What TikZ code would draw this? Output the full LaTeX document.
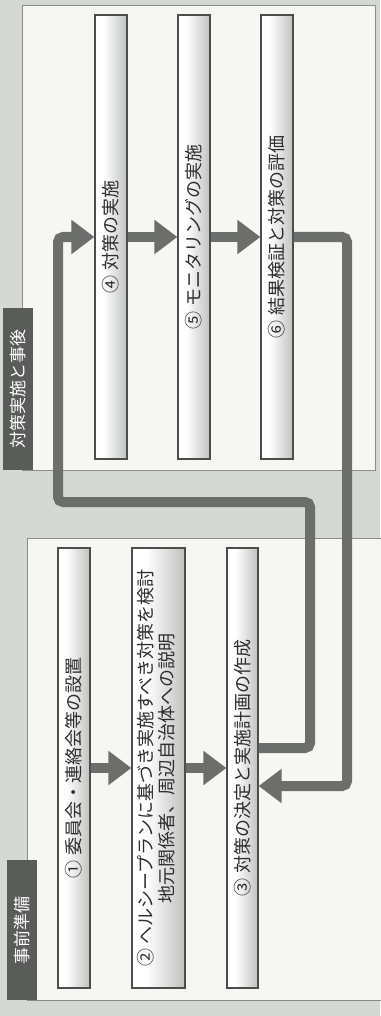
\documentclass[tikz,border=0pt]{standalone}
\usepackage{fontspec}
\usepackage{graphicx}
\newfontfamily\jp{Noto Sans CJK JP}
\usetikzlibrary{arrows.meta}
\definecolor{bg}{HTML}{D4D9D4}
\definecolor{panel}{HTML}{F6F6F3}
\definecolor{edge}{HTML}{8A8C8A}
\definecolor{arrowc}{HTML}{6C6E6C}
\definecolor{labc}{HTML}{5A5C5A}
\definecolor{barg}{HTML}{B2B7B2}
\definecolor{txt}{HTML}{2E2E2E}
\pgfdeclarehorizontalshading{barshade}{100bp}{color(0bp)=(white); color(38bp)=(white); color(82bp)=(barg); color(100bp)=(barg!75!white)}
\begin{document}
\begin{tikzpicture}[x=1pt,y=-1pt,
  bar/.style={draw=txt!85, line width=1.3pt, shading=barshade, inner sep=0pt,
    minimum width=32pt, minimum height=444pt, text=txt,
    font=\jp\fontsize{18}{21}\selectfont},
  labbox/.style={fill=labc, inner sep=0pt, minimum width=30pt, text=white,
    font=\jp\fontsize{17}{20}\selectfont},
  conn/.style={draw=arrowc, line width=10pt, rounded corners=5pt,
    -{Triangle[length=23pt,width=33pt]}},
  panelbox/.style={fill=panel, draw=edge, line width=0.8pt}]
\useasboundingbox (0,0) rectangle (380,1016);
% background and panels
\fill[bg] (0,0) rectangle (380,1016);
\path[panelbox] (22,5) rectangle (375,470);
\path[panelbox] (27,538) rectangle (386,1000);
% section labels
\node[labbox, minimum height=162pt] (lab1) at (18,389) {\rotatebox{90}{対策実施と事後}};
\node[labbox, minimum height=140pt] (lab2) at (22,930) {\rotatebox{90}{事前準備}};
% top row
\node[bar] (b4) at (111,237) {\rotatebox{90}{④ 対策の実施}};
\node[bar] (b5) at (194,237) {\rotatebox{90}{⑤ モニタリングの実施}};
\node[bar] (b6) at (277,237) {\rotatebox{90}{⑥ 結果検証と対策の評価}};
% bottom row
\node[bar, minimum height=440pt] (b1) at (74,768) {\rotatebox{90}{① 委員会・連絡会等の設置}};
\node[bar, minimum height=440pt, minimum width=53pt] (b2) at (158.5,768)
  {\rotatebox{90}{\begin{tabular}{@{}c@{}}② ヘルシープランに基づき実施すべき対策を検討\\地元関係者、周辺自治体への説明\end{tabular}}};
\node[bar, minimum height=440pt, minimum width=31pt] (b3) at (242.5,768) {\rotatebox{90}{③ 対策の決定と実施計画の作成}};
% connectors
\draw[conn] (b1.east) -- (b2.west);
\draw[conn] (b2.east) -- (b3.west);
\draw[conn] (b4.east) -- (b5.west);
\draw[conn] (b5.east) -- (b6.west);
\draw[conn] ([yshift=20pt]b3.east) -- (310,748) -- (310,502) -- (58,502) -- (58,237) -- (b4.west);
\draw[conn] (b6.east) -- (347,237) -- (347,786) -- ([yshift=-18pt]b3.east);
\end{tikzpicture}
\end{document}
